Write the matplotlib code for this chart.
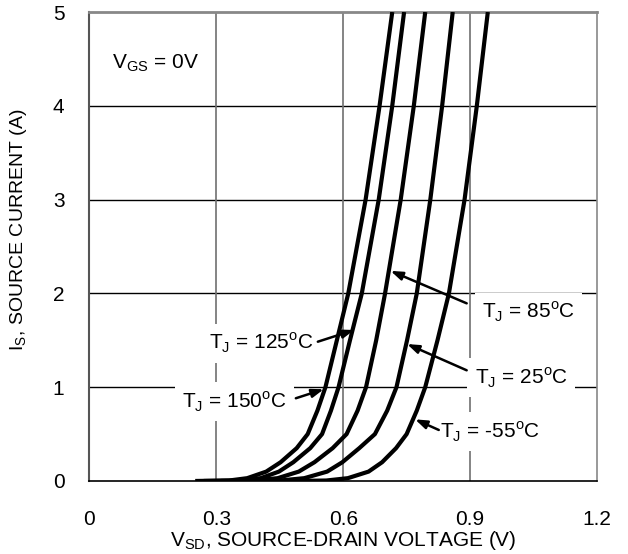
import matplotlib.pyplot as plt

plt.rcParams['font.family'] = ['Liberation Sans', 'DejaVu Sans']
plt.rcParams['mathtext.fontset'] = 'custom'
plt.rcParams['mathtext.rm'] = 'Liberation Sans'

FS = 15

# source current levels (A) at which the curves were read
i_pts = [0, 0.005, 0.03, 0.1, 0.2, 0.35, 0.5, 0.75, 1, 1.5, 2, 3, 4, 5]

# source-drain voltage (V) for each junction temperature
v_150 = [0.25, 0.33, 0.373, 0.418, 0.452, 0.490, 0.516, 0.539, 0.558, 0.585, 0.612, 0.653, 0.686, 0.716]
v_125 = [0.27, 0.35, 0.405, 0.448, 0.482, 0.522, 0.550, 0.571, 0.589, 0.616, 0.644, 0.684, 0.716, 0.744]
v_85 = [0.31, 0.39, 0.445, 0.495, 0.532, 0.575, 0.608, 0.634, 0.654, 0.678, 0.699, 0.736, 0.767, 0.794]
v_25 = [0.37, 0.45, 0.508, 0.562, 0.598, 0.638, 0.675, 0.704, 0.726, 0.751, 0.774, 0.806, 0.834, 0.859]
v_m55 = [0.48, 0.56, 0.611, 0.660, 0.692, 0.725, 0.750, 0.774, 0.794, 0.823, 0.850, 0.887, 0.916, 0.942]

x_ticks = [0, 0.3, 0.6, 0.9, 1.2]
x_ticklabels = ['0', '0.3', '0.6', '0.9', '1.2']
y_ticks = [0, 1, 2, 3, 4, 5]

# label text, text anchor (left, centre), arrow tail, arrow tip
labels = [
	('125', (0.282, 1.47), (0.540, 1.485), (0.626, 1.61)),
	('150', (0.219, 0.845), (0.488, 0.882), (0.554, 0.978)),
	('85', (0.928, 1.80), (0.892, 1.894), (0.712, 2.24)),
	('25', (0.911, 1.10), (0.892, 1.18), (0.751, 1.46)),
	('-55', (0.830, 0.525), (0.826, 0.544), (0.770, 0.657)),
]

fig = plt.figure(figsize=(6.28, 5.54), dpi=100)
ax = fig.add_axes([0.1425, 0.1318, 0.808, 0.8465])

for v in [v_150, v_125, v_85, v_25, v_m55]:
	ax.plot(v, i_pts, color='black', lw=3, solid_capstyle='butt',
			solid_joinstyle='round', zorder=3)

for y in y_ticks[1:-1]:
	ax.axhline(y, color='black', lw=1, zorder=0.5)
for x in x_ticks[1:-1]:
	ax.axvline(x, color='#707070', lw=1.2, zorder=0.5)

ax.set_xlim(0, 1.2)
ax.set_ylim(0, 5)
ax.set_xticks(x_ticks)
ax.set_xticklabels(x_ticklabels)
ax.set_yticks(y_ticks)
ax.tick_params(length=0, labelsize=FS)
ax.tick_params(axis='x', pad=21)
ax.tick_params(axis='y', pad=18)

ax.spines['top'].set_color('#888888')
ax.spines['top'].set_linewidth(2)
ax.spines['right'].set_color('#888888')
ax.spines['right'].set_linewidth(1.2)
ax.spines['left'].set_color('#555555')
ax.spines['left'].set_linewidth(1.5)
ax.spines['bottom'].set_linewidth(1.2)

ax.set_xlabel(r'V$_\mathregular{SD}$, SOURCE-DRAIN VOLTAGE (V)', fontsize=FS)
ax.set_ylabel(r'I$_\mathregular{S}$, SOURCE CURRENT (A)', fontsize=14)
ax.xaxis.set_label_coords(0.5, -0.103)
ax.yaxis.set_label_coords(-0.12, 0.535)

ax.text(0.053, 4.45, r'V$_\mathregular{GS}$ = 0V', fontsize=FS, ha='left', va='center',
		bbox=dict(boxstyle='square,pad=0.6', fc='white', ec='none'), zorder=2)

box = dict(boxstyle='square,pad=0.35', fc='white', ec='none')
for temp, (tx, ty), tail, tip in labels:
	ax.text(tx, ty, r'T$_\mathregular{J}$ = ' + temp + r'$^\mathregular{o}$C', fontsize=FS,
			ha='left', va='center', bbox=box, zorder=2)
	ax.annotate('', xy=tip, xytext=tail,
				arrowprops=dict(arrowstyle='-|>,head_length=0.7,head_width=0.25',
								color='black', lw=1.8, shrinkA=0, shrinkB=0),
				zorder=4)

fig.savefig('out.png', dpi=100)
